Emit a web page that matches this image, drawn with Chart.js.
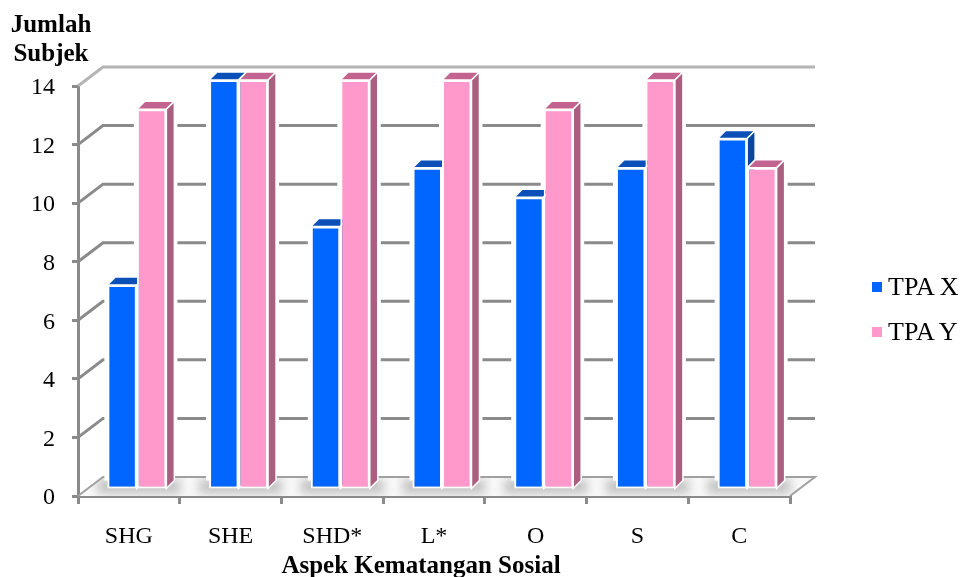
<!DOCTYPE html>
<html>
<head>
    <title>Aspek Kematangan Sosial</title>
    <style>
        html, body { margin: 0; padding: 0; background: #fff; overflow: hidden; }
        .wrap { position: relative; width: 960px; height: 577px; font-family: "Liberation Serif", serif; color: #000; }
        canvas { display: block; }
        .y-title {
            position: absolute; left: 0; top: 9px; width: 102px;
            text-align: center; font-weight: bold; font-size: 25px; line-height: 29px;
        }
        .x-title {
            position: absolute; left: 221px; top: 550px; width: 400px;
            text-align: center; font-weight: bold; font-size: 25px; line-height: 29px;
        }
        .legend { position: absolute; left: 872px; top: 0; white-space: nowrap; }
        .legend div { position: absolute; left: 0; font-size: 26px; line-height: 30px; width: 90px; }
        .legend i { display: inline-block; width: 10px; height: 10px; margin-right: 6px; vertical-align: 3px; }
    </style>
    <script src="https://cdn.jsdelivr.net/npm/chart.js"></script>
</head>
<body>
    <div class="wrap">
        <canvas id="chart" width="960" height="577"></canvas>
        <div class="y-title">Jumlah<br>Subjek</div>
        <div class="x-title">Aspek Kematangan Sosial</div>
        <div class="legend" id="legend"></div>
    </div>

    <script>
        const categories = ['SHG', 'SHE', 'SHD*', 'L*', 'O', 'S', 'C'];
        const tpaX = [7, 14, 9, 11, 10, 11, 12];
        const tpaY = [13, 14, 14, 14, 13, 14, 11];
        const seriesNames = ['TPA X', 'TPA Y'];

        // colours for the three visible faces of each bar
        const faces = [
            { front: '#0066ff', top: '#0a50b8', side: '#0a459f' },
            { front: '#ff99cc', top: '#c2648f', side: '#ab5f80' }
        ];

        // offsets of the fake 3D box
        const wallX = 25, wallY = -19;
        const barX = 8, barY = -6;
        const depthX = 8, depthY = -8;
        const axisGrey = '#8a8a8a';

        function poly(ctx, pts, fill, stroke) {
            ctx.beginPath();
            pts.forEach((p, i) => i ? ctx.lineTo(p[0], p[1]) : ctx.moveTo(p[0], p[1]));
            ctx.closePath();
            ctx.fillStyle = fill;
            ctx.fill();
            if (stroke) {
                ctx.strokeStyle = stroke;
                ctx.lineWidth = 1.5;
                ctx.stroke();
            }
        }

        const box3d = {
            id: 'box3d',
            beforeDatasetsDraw(chart) {
                const ctx = chart.ctx;
                const a = chart.chartArea;
                const y = chart.scales.y;
                const y0 = y.getPixelForValue(0);
                const metas = [chart.getDatasetMeta(0), chart.getDatasetMeta(1)];
                ctx.save();

                // floor, with a soft shadow round each group of bars
                const floor = [[a.left, y0], [a.left + wallX, y0 + wallY], [a.right + wallX, y0 + wallY], [a.right, y0]];
                poly(ctx, floor, '#f8f8f8');
                ctx.save();
                ctx.beginPath();
                floor.forEach((p, i) => i ? ctx.lineTo(p[0], p[1]) : ctx.moveTo(p[0], p[1]));
                ctx.closePath();
                ctx.clip();
                ctx.filter = 'blur(5px)';
                metas[0].data.forEach((bar, i) => {
                    const b = bar.getProps(['x', 'width'], true);
                    const c = metas[1].data[i].getProps(['x', 'width'], true);
                    ctx.fillStyle = 'rgba(120,120,120,0.4)';
                    ctx.fillRect(b.x - b.width / 2 - 2, y0 + wallY + 2, c.x + c.width / 2 - b.x + b.width / 2 + 24, -wallY - 4);
                });
                ctx.restore();

                // wall lines
                ctx.lineCap = 'butt';
                y.ticks.forEach(t => {
                    const py = y.getPixelForValue(t.value);
                    ctx.beginPath();
                    ctx.moveTo(a.left, py);
                    ctx.lineTo(a.left + wallX, py + wallY);
                    ctx.lineTo(a.right + wallX, py + wallY);
                    if (t.value === 0) ctx.lineTo(a.right, py);
                    ctx.strokeStyle = t.value === 14 ? '#b4b4b4' : t.value === 0 ? '#a0a0a0' : axisGrey;
                    ctx.lineWidth = t.value === 0 ? 2 : 3;
                    ctx.stroke();
                });

                // top and side of every bar go under all the front faces
                ctx.translate(barX, barY);
                metas.forEach(meta => {
                    meta.data.forEach(bar => {
                        const p = bar.getProps(['x', 'y', 'base', 'width'], true);
                        const l = p.x - p.width / 2, r = p.x + p.width / 2;
                        // white halo breaks the wall lines next to the bar
                        poly(ctx, [[l - 3, p.y - 2], [l + depthX - 3, p.y + depthY - 3], [r + depthX + 3, p.y + depthY - 3], [r + depthX + 3, p.base + depthY - 8], [r + 3, p.base - 8], [l - 3, p.base - 8]], '#fff');
                    });
                });
                metas.forEach((meta, k) => {
                    const c = faces[k];
                    meta.data.forEach(bar => {
                        const p = bar.getProps(['x', 'y', 'base', 'width'], true);
                        const l = p.x - p.width / 2, r = p.x + p.width / 2;
                        poly(ctx, [[l, p.y], [l + depthX, p.y + depthY], [r + depthX, p.y + depthY], [r, p.y]], c.top, '#fff');
                        poly(ctx, [[r, p.y], [r + depthX, p.y + depthY], [r + depthX, p.base + depthY], [r, p.base]], c.side, '#fff');
                    });
                });
                ctx.restore();
            },
            // front faces drawn by the library, moved into the box
            beforeDatasetDraw(chart) {
                chart.ctx.save();
                chart.ctx.translate(barX, barY);
            },
            afterDatasetDraw(chart) {
                chart.ctx.restore();
            }
        };

        new Chart(document.getElementById('chart'), {
            type: 'bar',
            plugins: [box3d],
            data: {
                labels: categories,
                datasets: [
                    { label: seriesNames[0], data: tpaX, backgroundColor: faces[0].front },
                    { label: seriesNames[1], data: tpaY, backgroundColor: faces[1].front }
                ]
            },
            options: {
                responsive: false,
                animation: false,
                layout: { padding: { left: 0, top: 86, right: 170, bottom: 0 } },
                datasets: {
                    bar: {
                        categoryPercentage: 0.58,
                        barPercentage: 1,
                        borderColor: '#fff',
                        borderWidth: 2,
                        borderSkipped: false,
                        clip: false
                    }
                },
                plugins: {
                    legend: { display: false },
                    tooltip: { enabled: false }
                },
                scales: {
                    x: {
                        afterFit: s => { s.height = 81; },
                        grid: { drawOnChartArea: false, color: axisGrey, tickLength: 8, lineWidth: 3 },
                        border: { color: axisGrey, width: 3 },
                        ticks: {
                            color: '#000',
                            padding: 18,
                            maxRotation: 0,
                            font: { family: '"Liberation Serif"', size: 24 }
                        }
                    },
                    y: {
                        min: 0,
                        max: 14,
                        afterFit: s => { s.width = 78; },
                        grid: { drawOnChartArea: false, color: axisGrey, tickLength: 6, lineWidth: 3 },
                        border: { color: axisGrey, width: 3 },
                        ticks: {
                            stepSize: 2,
                            color: '#000',
                            padding: 17,
                            labelOffset: 2,
                            font: { family: '"Liberation Serif"', size: 24 }
                        }
                    }
                }
            }
        });

        // legend to the right of the plot
        const legendTops = [272, 317];
        seriesNames.forEach((name, i) => {
            const row = document.createElement('div');
            row.style.top = legendTops[i] + 'px';
            const box = document.createElement('i');
            box.style.background = faces[i].front;
            row.appendChild(box);
            row.appendChild(document.createTextNode(name));
            document.getElementById('legend').appendChild(row);
        });
    </script>
</body>
</html>
